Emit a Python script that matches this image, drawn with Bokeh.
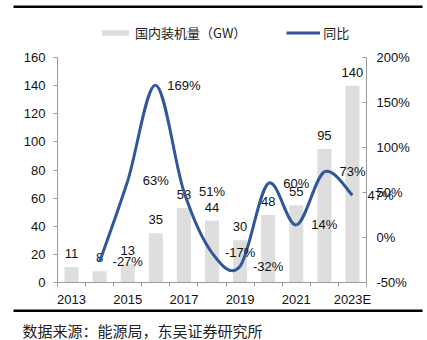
from bokeh.plotting import figure
from bokeh.models import (Range1d, LinearAxis, FixedTicker, Legend, LegendItem,
                          ColumnDataSource)
from bokeh.embed import file_html
from bokeh.resources import INLINE
from bokeh.core.properties import value

# ---- data ----
years = ["2013", "2014", "2015", "2016", "2017", "2018", "2019", "2020", "2021", "2022", "2023E"]
capacity = [11, 8, 13, 35, 53, 44, 30, 48, 55, 95, 140]          # GW
yoy_years = ["2014", "2015", "2016", "2017", "2018", "2019", "2020", "2021", "2022", "2023E"]
yoy = [-27, 63, 169, 51, -17, -32, 60, 14, 73, 47]                  # %
left_ticks = [0, 20, 40, 60, 80, 100, 120, 140, 160]
right_ticks = [-50, 0, 50, 100, 150, 200]
x_tick_labels = ["2013", "2015", "2017", "2019", "2021", "2023E"]
source_note = "数据来源：能源局，东吴证券研究所"

# ---- styling / layout (pixels) ----
FONT = "Liberation Sans"
CJK = "Noto Sans CJK SC"
BAR_COLOR = "#dedede"
LINE_COLOR = "#31569b"
AXIS_COLOR = "#9a9a9a"
TEXT_COLOR = "#111111"
W, H = 427, 340
PL, PR, PT, PB = 57, 366, 57, 282          # plotting box inside the canvas
L_MIN, L_MAX = left_ticks[0], left_ticks[-1]
R_MIN, R_MAX = right_ticks[0], right_ticks[-1]

ncat = len(years)
px_cat = (PR - PL) / ncat
ppu_l = (PB - PT) / (L_MAX - L_MIN)
ppu_r = (PB - PT) / (R_MAX - R_MIN)

x_start = -0.5 - PL / px_cat
x_end = ncat - 0.5 + (W - PR) / px_cat
yl_start = L_MIN - (H - PB) / ppu_l
yl_end = L_MAX + PT / ppu_l
yr_start = R_MIN - (H - PB) / ppu_r
yr_end = R_MAX + PT / ppu_r


def fx(px):   # canvas pixel -> x data
    return x_start + px / px_cat


def fy(py):   # canvas pixel (from top) -> left y data
    return yl_end - py / ppu_l


xi = {y: i for i, y in enumerate(years)}
bar_x = [xi[y] for y in years]
yoy_x = [xi[y] for y in yoy_years]

p = figure(width=W, height=H, output_backend="svg", toolbar_location=None,
           x_range=Range1d(x_start, x_end), y_range=Range1d(yl_start, yl_end),
           min_border=0)
p.outline_line_color = None
p.xgrid.visible = False
p.ygrid.visible = False
p.extra_y_ranges = {"yoy": Range1d(yr_start, yr_end)}

# bars + value labels
src = ColumnDataSource(dict(x=bar_x, top=capacity, lab=[str(v) for v in capacity]))
bars = p.vbar(x="x", top="top", width=0.5, source=src, fill_color=BAR_COLOR, line_color=None)
p.text(x="x", y="top", text="lab", source=src, text_align="center", text_baseline="bottom",
       y_offset=-9, text_font=value(FONT), text_font_size="13px", text_color=TEXT_COLOR)

# smoothed yoy line (Catmull-Rom style bezier segments through the points)
n = len(yoy_x)
x0, y0, x1, y1, cx0, cy0, cx1, cy1 = [], [], [], [], [], [], [], []
for i in range(n - 1):
    pm = i - 1 if i > 0 else i
    pp = i + 2 if i + 2 < n else i + 1
    x0.append(yoy_x[i]); y0.append(yoy[i])
    x1.append(yoy_x[i + 1]); y1.append(yoy[i + 1])
    cx0.append(yoy_x[i] + (yoy_x[i + 1] - yoy_x[pm]) / 6.0)
    cy0.append(yoy[i] + (yoy[i + 1] - yoy[pm]) / 6.0)
    cx1.append(yoy_x[i + 1] - (yoy_x[pp] - yoy_x[i]) / 6.0)
    cy1.append(yoy[i + 1] - (yoy[pp] - yoy[i]) / 6.0)
curve = p.bezier(x0=x0, y0=y0, x1=x1, y1=y1, cx0=cx0, cy0=cy0, cx1=cx1, cy1=cy1,
                 line_color=LINE_COLOR, line_width=3, y_range_name="yoy")

# yoy labels, one slot to the right of each point
p.text(x=[x + 1 for x in yoy_x], y=yoy, text=[f"{v}%" for v in yoy], y_range_name="yoy",
       text_align="center", text_baseline="middle", text_font=value(FONT),
       text_font_size="13px", text_color=TEXT_COLOR)

# ---- axes (drawn at fixed locations inside the full-canvas frame) ----
ax = p.xaxis[0]
ax.fixed_location = L_MIN
ax.bounds = (-0.5, ncat - 0.5)
ax.ticker = FixedTicker(ticks=[xi[t] for t in x_tick_labels],
                        minor_ticks=[i + 0.5 for i in range(-1, ncat)])
ax.major_label_overrides = {xi[t]: t for t in x_tick_labels}
ax.major_tick_line_color = None
ax.major_tick_out = 0
ax.major_tick_in = 0
ax.minor_tick_out = 4
ax.minor_tick_in = 0
ax.minor_tick_line_color = AXIS_COLOR
ax.axis_line_color = AXIS_COLOR
ax.major_label_standoff = 5
ax.major_label_text_font = FONT
ax.major_label_text_font_size = "13px"
ax.major_label_text_color = TEXT_COLOR

ay = p.yaxis[0]
ay.fixed_location = -0.5
ay.bounds = (L_MIN, L_MAX)
ay.ticker = FixedTicker(ticks=left_ticks)
ay.major_tick_out = 4
ay.major_tick_in = 0
ay.minor_tick_line_color = None
ay.axis_line_color = AXIS_COLOR
ay.major_tick_line_color = AXIS_COLOR
ay.major_label_standoff = 8
ay.major_label_text_font = FONT
ay.major_label_text_font_size = "13px"
ay.major_label_text_color = TEXT_COLOR

ry = LinearAxis(y_range_name="yoy", ticker=FixedTicker(ticks=right_ticks))
ry.fixed_location = ncat - 0.5
ry.bounds = (R_MIN, R_MAX)
ry.major_label_overrides = {t: f"{t}%" for t in right_ticks}
ry.major_tick_out = 0
ry.major_tick_in = 4
ry.minor_tick_line_color = None
ry.axis_line_color = AXIS_COLOR
ry.major_tick_line_color = AXIS_COLOR
ry.major_label_standoff = 10
ry.major_label_text_font = FONT
ry.major_label_text_font_size = "13px"
ry.major_label_text_color = TEXT_COLOR
p.add_layout(ry, "right")

# ---- legend ----
legend = Legend(items=[LegendItem(label="国内装机量（GW）", renderers=[bars]),
                       LegendItem(label="同比", renderers=[curve])],
                orientation="horizontal", location=(98, H - 42),
                glyph_width=34, glyph_height=7, label_standoff=3, spacing=40,
                padding=0, margin=0, border_line_color=None, background_fill_alpha=0,
                label_text_font=CJK, label_text_font_size="13px", label_text_color="#222222")
p.add_layout(legend, "center")

# ---- rules and source note ----
p.quad(left=[fx(13)], right=[fx(422)], top=[fy(5)], bottom=[fy(7.5)],
       fill_color="black", line_color=None)
p.quad(left=[fx(13)], right=[fx(422)], top=[fy(309)], bottom=[fy(311.5)],
       fill_color="black", line_color=None)
p.text(x=[fx(22)], y=[fy(330)], text=[source_note], text_baseline="middle",
       text_font=value(CJK), text_font_size="15px", text_color="#222222")

open("out.html", "w").write(file_html(p, INLINE))
